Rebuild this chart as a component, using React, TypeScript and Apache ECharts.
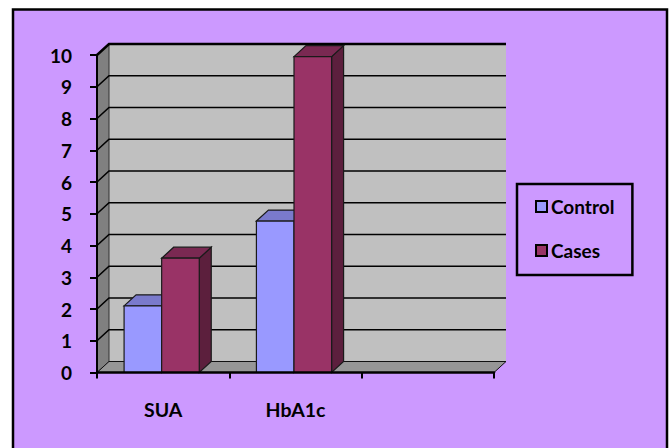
import React, { useEffect, useRef } from "react";
import * as echarts from "echarts";

const categories = ["SUA", "HbA1c", ""];
const control = [2.1, 4.77];
const cases = [3.6, 9.95];
const yTicks = [0, 1, 2, 3, 4, 5, 6, 7, 8, 9, 10];

const DX = 12;
const DY = 11;
const FONT = "Lato, 'Noto Sans', sans-serif";

function barRenderer(side: "left" | "right", front: string, top: string, dark: string) {
  return (params: any, api: any) => {
    const cat = api.value(0);
    const val = api.value(1);
    const base = api.coord([cat, 0]);
    const head = api.coord([cat, val]);
    const band = api.size([1, 0])[0];
    const w = band * 0.284;
    const mid = base[0] - 1.5;
    const x0 = side === "left" ? mid - w : mid;
    const x1 = x0 + w;
    const stroke = { stroke: "#1a1a1a", lineWidth: 1.2 };
    return {
      type: "group",
      children: [
        { type: "polygon", shape: { points: [[x1, head[1]], [x1 + DX, head[1] - DY], [x1 + DX, base[1] - DY], [x1, base[1]]] }, style: { fill: dark, ...stroke } },
        { type: "polygon", shape: { points: [[x0, head[1]], [x0 + DX, head[1] - DY], [x1 + DX, head[1] - DY], [x1, head[1]]] }, style: { fill: top, ...stroke } },
        { type: "rect", shape: { x: x0, y: head[1], width: w, height: base[1] - head[1] }, style: { fill: front, ...stroke } },
      ],
    };
  };
}

function plotEdges(api: any, v: number) {
  const band = api.size([1, 0])[0];
  const first = api.coord([0, v]);
  const last = api.coord([categories.length - 1, v]);
  return { l: first[0] - band / 2, r: last[0] + band / 2, y: first[1] };
}

function wallRenderer(params: any, api: any) {
  const { l, r, y: bot } = plotEdges(api, 0);
  const { y: t } = plotEdges(api, 10);
  return {
    type: "group",
    children: [
      { type: "rect", shape: { x: l + DX, y: t - DY, width: r - l, height: bot - t }, style: { fill: "#c0c0c0" } },
      { type: "polygon", shape: { points: [[l, bot], [l + DX, bot - DY], [l + DX, t - DY], [l, t]] }, style: { fill: "#808080", stroke: "#333", lineWidth: 1 } },
      { type: "polygon", shape: { points: [[l, bot], [l + DX, bot - DY], [r + DX, bot - DY], [r, bot]] }, style: { fill: "#969696", stroke: "#111", lineWidth: 1 } },
    ],
  };
}

function gridRenderer(params: any, api: any) {
  const v = api.value(0);
  const { l, r, y } = plotEdges(api, v);
  return {
    type: "polyline",
    shape: { points: [[l, y], [l + DX, y - DY], [r + DX, y - DY]] },
    style: { fill: "none", stroke: "#000", lineWidth: v === 10 ? 2.5 : 1.6 },
  };
}

export default function App() {
  const ref = useRef<HTMLDivElement>(null);
  useEffect(() => {
    const chart = echarts.init(ref.current!, undefined, { renderer: "svg" });
    chart.setOption({
      animation: false,
      backgroundColor: "#ffffff",
      textStyle: { fontFamily: FONT },
      graphic: [
        { type: "rect", z: -1, shape: { x: 13, y: 9.5, width: 654, height: 460 }, style: { fill: "#cc99ff", stroke: "#000", lineWidth: 2.5 } },
      ],
      grid: { left: 97, right: 176, top: 55, bottom: 75.5 },
      legend: {
        orient: "vertical",
        left: 517,
        top: 184,
        data: ["Control", "Cases"],
        itemWidth: 11,
        itemHeight: 11,
        itemGap: 25,
        padding: [13, 18, 15, 18],
        borderColor: "#000",
        borderWidth: 2.5,
        icon: "rect",
        textStyle: { fontFamily: FONT, fontWeight: "bold", fontSize: 19, color: "#000", padding: [0, 0, 0, -1] },
      },
      xAxis: {
        type: "category",
        data: categories,
        z: 6,
        boundaryGap: true,
        axisLine: { lineStyle: { color: "#000", width: 2.5 } },
        axisTick: { show: true, length: 6, alignWithLabel: false, lineStyle: { color: "#000", width: 2 } },
        axisLabel: { margin: 27, fontFamily: FONT, fontWeight: "bold", fontSize: 19.5, color: "#000" },
        splitLine: { show: false },
      },
      yAxis: {
        type: "value",
        min: 0,
        max: 10,
        interval: 1,
        z: 6,
        axisLine: { show: true, lineStyle: { color: "#000", width: 2 } },
        axisTick: { show: true, length: 7, lineStyle: { color: "#000", width: 2 } },
        axisLabel: { margin: 25, fontFamily: FONT, fontWeight: "bold", fontSize: 19, color: "#000" },
        splitLine: { show: false },
      },
      series: [
        { type: "custom", name: "wall", silent: true, z: 1, renderItem: wallRenderer, data: [[0]], encode: { x: -1, y: -1 }, clip: false },
        { type: "custom", name: "grid", silent: true, z: 2, renderItem: gridRenderer, data: yTicks.slice(1).map((v) => [v]), encode: { x: -1, y: -1 }, clip: false },
        {
          type: "custom", name: "Control", z: 3, clip: false,
          itemStyle: { color: "#9999ff", borderColor: "#000", borderWidth: 3 },
          renderItem: barRenderer("left", "#9999ff", "#7a7acc", "#5c5c99"),
          data: control.map((v, i) => [i, v]),
          encode: { x: 0, y: 1 },
        },
        {
          type: "custom", name: "Cases", z: 4, clip: false,
          itemStyle: { color: "#993366", borderColor: "#000", borderWidth: 3 },
          renderItem: barRenderer("right", "#993366", "#7a2952", "#5c1f3d"),
          data: cases.map((v, i) => [i, v]),
          encode: { x: 0, y: 1 },
        },
      ],
    });
    return () => chart.dispose();
  }, []);
  return <div ref={ref} style={{ position: "absolute", left: 0, top: 0, width: 670, height: 448 }} />;
}
